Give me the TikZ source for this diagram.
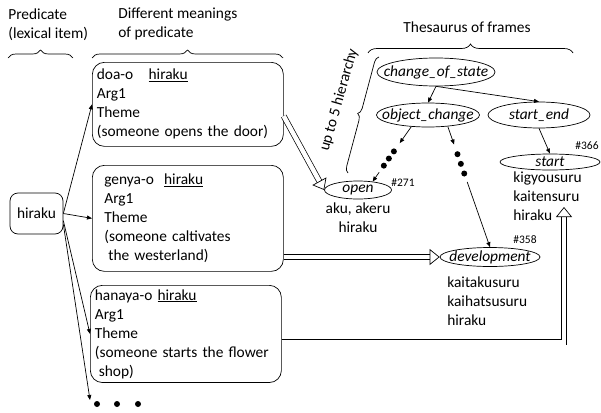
\documentclass[tikz,border=0pt]{standalone}
\usepackage{fontspec}
\setmainfont{Carlito}
\usetikzlibrary{arrows.meta}
\usetikzlibrary{calc}
\usetikzlibrary{shapes.geometric}
\usetikzlibrary{decorations.pathreplacing}
\usetikzlibrary{positioning}

\newcommand\bodyfont{\fontsize{15.4}{19}\selectfont}

\tikzset{
  meaning/.style={draw, rounded corners=12pt, anchor=north west, align=left,
    text width=182pt, inner xsep=4.5pt, inner ysep=4pt},
  frame/.style={draw, ellipse, inner xsep=-30pt, inner ysep=-5pt, font=\bodyfont\itshape},
  link/.style={-{Triangle[length=5pt,width=4pt]}},
  hollow/.style={double, double distance=4.5pt, -{Triangle[open,length=10pt,width=16pt]}},
  framenum/.style={font=\fontsize{11.5}{14}\selectfont},
  bracket/.style={decorate, decoration={brace, amplitude=#1}},
  bracket/.default=8pt,
}

\newcommand\skiplink[5]{
  \draw[link] (#1) -- ($(#1)!#3!(#2)$);
  \foreach \t in {#4}
    \fill ($(#1)!\t!(#2)$) circle (3pt);
  \draw[link] ($(#1)!#5!(#2)$) -- (#2);
}

\begin{document}
\begin{tikzpicture}[x=1pt, y=-1pt, line width=0.7pt, font=\bodyfont]
  %
  \useasboundingbox (0,0) rectangle (601,412);

  \node[anchor=north west, inner sep=0pt, align=left] (predhead) at (8,8) {Predicate\\(lexical item)};
  \node[anchor=north west, inner sep=0pt, align=left] (meanhead) at (118,8) {Different meanings\\of predicate};
  \node (thesaurushead) at (467,27) {Thesaurus of frames};

  \draw[bracket] (8,58) -- (73,58);
  \draw[bracket] (92,58) -- (283,58);
  \draw[bracket=9pt] (368,53) -- (573,53);
  \draw[bracket=6pt] (348,173) -- (379,57);
  \node[rotate=74] (hierlabel) at (339,100) {up to 5 hierarchy};

  % predicate and its meanings
  \node[draw, rounded corners=8pt, minimum width=53pt, minimum height=41pt] (hiraku) at (36.5,213.5) {hiraku};

  \node[meaning, minimum height=84pt] (doa) at (92,62)
    {doa-o\ \ \ \underline{hiraku}\\Arg1\\Theme\\(someone opens the door)};
  \node[meaning, minimum height=106pt, text width=167pt, inner xsep=12pt] (genya) at (92,165)
    {genya-o\ \ \underline{hiraku}\\Arg1\\Theme\\(someone caltivates\\\hspace*{4pt}the westerland)};
  \node[meaning, minimum height=95pt] (hanaya) at (90,285)
    {hanaya-o \underline{hiraku}\\Arg1\\Theme\\(someone starts the flower\\\hspace*{4pt}shop)};

  \coordinate (more) at (90,400);
  \foreach \x in {97,117,138}
    \fill (\x,404) circle (3pt);

  \draw[link] (hiraku.east) -- (doa.west);
  \draw[link] (hiraku.east) -- (genya.west);
  \draw[link] (hiraku.-15) -- (hanaya.west);
  \draw[link] (hiraku.-22) -- (more);

  % thesaurus
  \node[frame, minimum width=118pt, minimum height=28pt] (cos) at (436,72) {change\_of\_state};
  \node[frame, minimum width=103pt, minimum height=24pt] (objchange) at (428,115) {object\_change};
  \node[frame, minimum width=102pt, minimum height=26pt] (startend) at (539,115) {start\_end};
  \node[frame, minimum width=67pt, minimum height=18pt] (open) at (358,190) {open};
  \node[frame, minimum width=100pt, minimum height=16pt] (start) at (550,162) {start};
  \node[frame, minimum width=100pt, minimum height=19pt] (development) at (490,257) {development};

  \node[framenum] (num271) at (403,183) {\#271};
  \node[framenum] (num366) at (587,146) {\#366};
  \node[framenum] (num358) at (525,240) {\#358};

  \node[below=1pt of open, inner sep=2pt, align=center] (openwords) {aku, akeru\\hiraku};
  \node[anchor=north west, inner sep=2pt, align=left] (startwords) at (511,169) {kigyousuru\\kaitensuru\\hiraku};
  \node[anchor=north west, inner sep=2pt, align=left] (devwords) at (445,274) {kaitakusuru\\kaihatsusuru\\hiraku};

  \draw[link] (cos.south) -- (objchange.north);
  \draw[link] (cos.south) -- (startend.north);
  \draw[link] (startend.south) -- (start.north);
  \skiplink{objchange.-145}{open.30}{0.3}{0.45,0.58,0.71}{0.83}
  \skiplink{objchange.-30}{development.north}{0.15}{0.23,0.31,0.39}{0.46}

  % meanings into frames
  \coordinate (startin) at (564,207);
  \draw[hollow] (doa.-7) -- (open.west);
  \draw[hollow] (development.west -| genya.east) -- (development.west);
  \draw[hollow] (hanaya.-5) -| (startin);

\end{tikzpicture}
\end{document}
